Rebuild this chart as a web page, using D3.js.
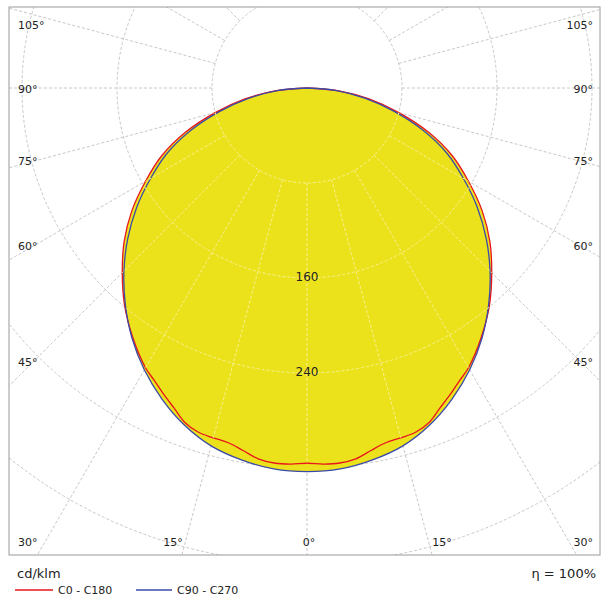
<!DOCTYPE html>
<html><head><meta charset="utf-8">
<script src="https://cdn.jsdelivr.net/npm/d3@7"></script>
<style>body{margin:0;background:#fff}svg{font-family:"DejaVu Sans",Verdana,sans-serif}</style>
</head><body><svg id="c" width="608" height="608"></svg>
<script>
const angles = [0,5,10,15,20,25,30,35,40,45,50,55,60,65,70,75,80,85,90];
const c90 = [323,322,318,312,302,289,274,257,238,218,197,175,152,130,104,76,50,25,0];
const angles0 = [0,2.5,5,7.5,10,12.5,15,17.5,20,22.5,25,27.5,30,35,40,45,50,55,60,65,70,75,80,85,90];
const c0 = [316,317,317,315,310,306,305,304,300,292,285,278,272,256,239,220,201,180,157,135,109,80,53,27,0];
const ringValues = [80,160,240,320,400,480];
const ringLabels = [160,240];
const gridAngles = d3.range(-180,181,15);
const leftLabels = ["105°","90°","75°","60°","45°","30°"];
const bottomLabels = ["15°","0°","15°"];

const svg = d3.select("#c");
const L=9,T=7,R=600,B=555, cx=307, cy=88;
const r = d3.scaleLinear().domain([0,400]).range([0,475]);
const toRad = d=>d*Math.PI/180;

svg.append("defs").append("clipPath").attr("id","frame").append("rect")
  .attr("x",L).attr("y",T).attr("width",R-L).attr("height",B-T);

function full(a,v){
  const pts=[];
  for(let i=a.length-1;i>=0;i--) pts.push([-a[i],v[i]]);
  for(let i=1;i<a.length;i++) pts.push([a[i],v[i]]);
  return pts;
}
const line = d3.lineRadial().angle(d=>Math.PI - toRad(d[0])).radius(d=>r(d[1])).curve(d3.curveCatmullRom);
const pRed = full(angles0,c0), pBlue = full(angles,c90);

const g = svg.append("g").attr("clip-path","url(#frame)");
function grid(sel,color){
  sel.selectAll("circle.ring").data(ringValues).join("circle").attr("class","ring")
    .attr("cx",cx).attr("cy",cy).attr("r",d=>r(d))
    .attr("fill","none").attr("stroke",color).attr("stroke-dasharray","3,2");
  sel.selectAll("line.rad").data(gridAngles).join("line").attr("class","rad")
    .attr("x1",d=>cx+r(80)*Math.sin(toRad(d))).attr("y1",d=>cy+r(80)*Math.cos(toRad(d)))
    .attr("x2",d=>cx+r(700)*Math.sin(toRad(d))).attr("y2",d=>cy+r(700)*Math.cos(toRad(d)))
    .attr("stroke",color).attr("stroke-dasharray","3,2");
}
grid(g.append("g"),"#c8c8c8");

const curves = svg.append("g").attr("transform",`translate(${cx},${cy})`);
curves.append("path").attr("d",line(pRed)).attr("fill","#ece21c");
curves.append("path").attr("d",line(pBlue)).attr("fill","#ece21c");
svg.select("defs").append("clipPath").attr("id","yel").append("path")
  .attr("transform",`translate(${cx},${cy})`).attr("d",line(pRed));
grid(svg.append("g").attr("clip-path","url(#yel)"),"#f6f090");
curves.append("path").attr("d",line(pRed)).attr("fill","none").attr("stroke","#e8141e").attr("stroke-width",1.3);
curves.append("path").attr("d",line(pBlue)).attr("fill","none").attr("stroke","#3a4aa8").attr("stroke-width",1.3);

svg.selectAll("text.rl").data(ringLabels).join("text").attr("class","rl")
  .attr("x",cx).attr("y",d=>cy+r(d)+3).attr("text-anchor","middle")
  .attr("font-size",12).attr("fill","#222").text(d=>d);

svg.append("rect").attr("x",L).attr("y",T).attr("width",R-L).attr("height",B-T)
  .attr("fill","none").attr("stroke","#9a9a9a");

const sideY=[29,93,165,250,366,546];
leftLabels.forEach((t,i)=>{
  svg.append("text").attr("x",18).attr("y",sideY[i]).attr("font-size",11).attr("fill","#222").text(t);
  svg.append("text").attr("x",593).attr("y",sideY[i]).attr("text-anchor","end").attr("font-size",11).attr("fill","#222").text(t);
});
const bx=[173,309,442];
bottomLabels.forEach((t,i)=>svg.append("text").attr("x",bx[i]).attr("y",546).attr("text-anchor","middle").attr("font-size",11).attr("fill","#222").text(t));

svg.append("text").attr("x",17).attr("y",578).attr("font-size",13).attr("fill","#222").text("cd/klm");
svg.append("text").attr("x",596).attr("y",578).attr("text-anchor","end").attr("font-size",13).attr("fill","#222").text("η = 100%");
svg.append("line").attr("x1",15).attr("x2",53).attr("y1",590).attr("y2",590).attr("stroke","#e8141e").attr("stroke-width",1.3);
svg.append("text").attr("x",58).attr("y",594).attr("font-size",11).attr("fill","#222").text("C0 - C180");
svg.append("line").attr("x1",136).attr("x2",172).attr("y1",590).attr("y2",590).attr("stroke","#3a4aa8").attr("stroke-width",1.3);
svg.append("text").attr("x",177).attr("y",594).attr("font-size",11).attr("fill","#222").text("C90 - C270");
</script></body></html>
